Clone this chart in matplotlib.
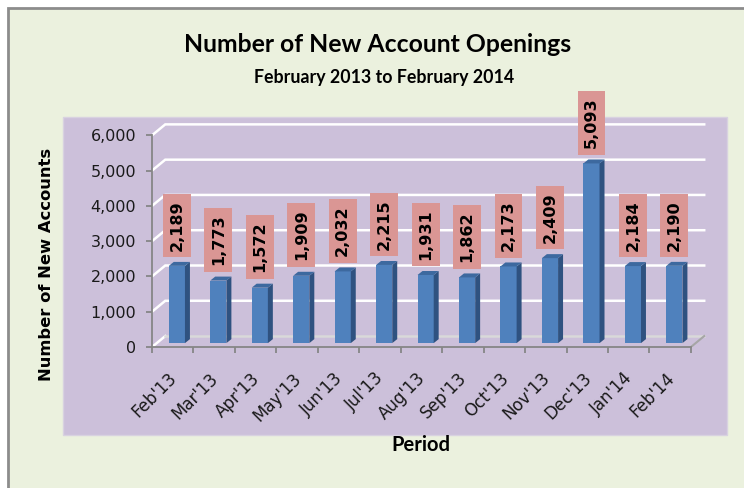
import matplotlib
matplotlib.use('Agg')
import matplotlib.pyplot as plt
from matplotlib.patches import Rectangle, Polygon

# data
months = ["Feb'13", "Mar'13", "Apr'13", "May'13", "Jun'13", "Jul'13", "Aug'13",
          "Sep'13", "Oct'13", "Nov'13", "Dec'13", "Jan'14", "Feb'14"]
accounts = [2189, 1773, 1572, 1909, 2032, 2215, 1931, 1862, 2173, 2409, 5093, 2184, 2190]
yticks = [0, 1000, 2000, 3000, 4000, 5000, 6000]

# colours
green = '#EBF1DE'
purple = '#CCC0DA'
front_c = '#4F81BD'
side_c = '#2F5280'
top_c = '#3D699F'
label_c = '#DA9694'

fig = plt.figure(figsize=(7.44, 4.88), dpi=100)
fig.patch.set_facecolor('white')

# outer panel with grey border on top / left
fig.patches.append(Rectangle((8 / 744, -0.05), 1.1, 1 - 8 / 488 + 0.05,
                             transform=fig.transFigure, facecolor=green,
                             edgecolor='#8C8C8C', lw=2, zorder=-3))
# plot area
fig.patches.append(Rectangle((63 / 744, (488 - 435) / 488), (727 - 63) / 744, (435 - 117) / 488,
                             transform=fig.transFigure, facecolor=purple,
                             edgecolor='#D8D2E0', lw=1, zorder=-2))

ax = fig.add_axes([152 / 744, 141 / 488, 580.4 / 744, 264.6 / 488])
ax.patch.set_visible(False)
ax.set_xlim(-0.5, 13.5)
ax.set_ylim(0, 7500)

# 3d offsets (data units)
ddx, ddy = 0.32, 310      # floor / wall depth
sdx, sdy = 0.12, 113      # bar side depth
base = 110
shift = 0.1
w = 0.39
n = len(months)

# walls: gridlines on back wall
for v in yticks[1:]:
    ax.plot([-0.5, -0.5 + ddx, n - 0.5 + ddx], [v, v + ddy, v + ddy],
            color='white', lw=1.8, zorder=2, solid_joinstyle='miter')
# floor
ax.plot([-0.5, -0.5 + ddx], [0, ddy], color='white', lw=1.8, zorder=2)
ax.plot([-0.5 + ddx, n - 0.5 + ddx], [ddy, ddy], color='#D9D9D9', lw=1.8, zorder=2)
ax.plot([n - 0.5, n - 0.5 + ddx], [0, ddy], color='#A6A6A6', lw=1.5, zorder=2)

# bars
xs = [i + shift for i in range(n)]
ax.bar(xs, accounts, width=w, bottom=base, color=front_c, zorder=3)
for x, v in zip(xs, accounts):
    x0, x1 = x - w / 2, x + w / 2
    top = base + v
    ax.add_patch(Polygon([(x1, base), (x1 + sdx, base + sdy), (x1 + sdx, top + sdy), (x1, top)],
                         closed=True, facecolor=side_c, edgecolor='none', zorder=3))
    ax.add_patch(Polygon([(x0, top), (x0 + sdx, top + sdy), (x1 + sdx, top + sdy), (x1, top)],
                         closed=True, facecolor=top_c, edgecolor='none', zorder=3))
    ax.annotate(f'{v:,}', (x, top), xytext=(0, 11), textcoords='offset points',
                rotation=90, ha='center', va='bottom', fontsize=11.5, fontweight='bold',
                color='black', zorder=4,
                bbox=dict(boxstyle='square,pad=0.4', facecolor=label_c, edgecolor='none'))

# axes
for s in ['top', 'right']:
    ax.spines[s].set_visible(False)
ax.spines['left'].set_bounds(0, 6000)
ax.spines['bottom'].set_bounds(-0.5, n - 0.5)
for s in ['left', 'bottom']:
    ax.spines[s].set_color('#868686')
    ax.spines[s].set_linewidth(1.3)

ax.set_yticks(yticks)
ax.set_yticklabels([f'{v:,}' for v in yticks])
ax.tick_params(axis='y', direction='out', length=4.5, width=1.3, color='#868686',
               pad=7, labelsize=11.5, labelcolor='#1A1A1A')

ax.set_xticks([i - 0.5 for i in range(n + 1)])
ax.set_xticklabels([])
ax.set_xticks([i - 0.12 for i in range(n)], minor=True)
ax.set_xticklabels(months, minor=True, rotation=45, ha='right', va='top',
                   rotation_mode='anchor')
ax.tick_params(axis='x', which='major', direction='out', length=4, width=1.3, color='#868686')
ax.tick_params(axis='x', which='minor', length=0, pad=16, labelsize=12, labelcolor='#1A1A1A')

# texts
fig.text(378 / 744, 1 - 45 / 488, 'Number of New Account Openings', ha='center', va='center',
         fontsize=17.8, fontweight='bold', family='Lato', color='black')
fig.text(384 / 744, 1 - 77 / 488, 'February 2013 to February 2014', ha='center', va='center',
         fontsize=12.8, fontweight='bold', family='Lato', color='black')
fig.text(421 / 744, 1 - 445 / 488, 'Period', ha='center', va='center',
         fontsize=14.5, fontweight='bold', family='Lato', color='black')
fig.text(47 / 744, 1 - 264 / 488, 'Number of New Accounts', ha='center', va='center',
         rotation=90, fontsize=11.8, fontweight='bold', color='black')

fig.savefig('out.png', dpi=100)
